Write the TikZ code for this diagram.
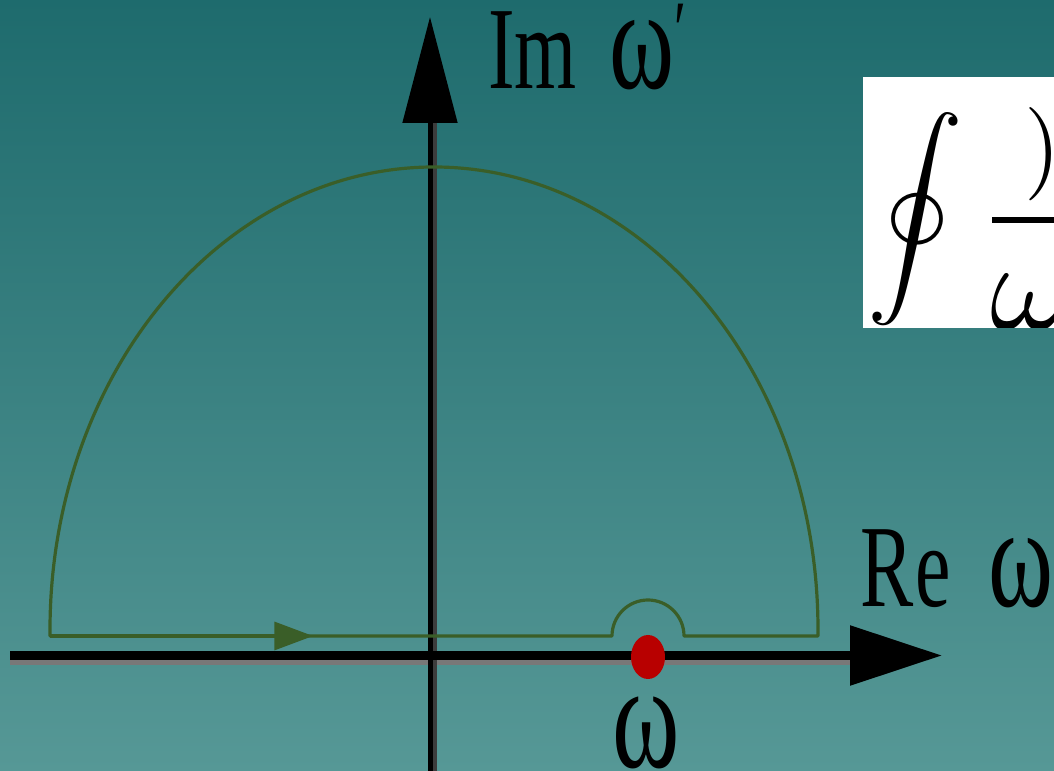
\documentclass[tikz,border=0pt]{standalone}
\usepackage{fontspec}
\usepackage{graphicx}
\usetikzlibrary{arrows.meta, shapes.geometric}
\newfontfamily\lblfont{Liberation Serif}
\newcommand{\narrow}[1]{\scalebox{0.68}[1]{#1}}
\newcommand{\wprime}{{\fontsize{60}{60}\selectfont\raisebox{24pt}{′}}}
\definecolor{bgtop}{RGB}{30,107,109}
\definecolor{bgbot}{RGB}{86,152,150}
\definecolor{pathgreen}{RGB}{58,94,40}
\definecolor{polered}{RGB}{184,0,0}
\definecolor{shadowgray}{RGB}{120,120,120}
\definecolor{shadowdark}{RGB}{60,60,60}
\tikzset{
  axisline/.style={line width=6.75pt, black},
  vaxisline/.style={line width=3.75pt, black},
  contour/.style={line width=2.4pt, pathgreen, line join=round},
  lbl/.style={inner sep=0pt, font=\lblfont},
  polemark/.style={ellipse, fill=polered, inner sep=0pt,
                   minimum width=25.5pt, minimum height=33pt},
}

\begin{document}
\begin{tikzpicture}[x=0.75pt, y=0.75pt]
\useasboundingbox (0,0) rectangle (1054,771);
\clip (0,0) rectangle (1054,771);
\shade[top color=bgtop, bottom color=bgbot] (0,0) rectangle (1054,771);
% axes
\coordinate (xfrom) at (10,115.5);
\coordinate (xto) at (942,115.5);
\coordinate (yfrom) at (430,0);
\coordinate (yto) at (430,754);
\draw[line width=4.5pt, shadowgray] (10,109) -- (850,109);
\draw[line width=3.75pt, shadowdark] (434.5,0) -- (434.5,648);
\draw[axisline, -{Triangle[length=69pt, width=43.5pt]}] (xfrom) -- (xto);
\draw[vaxisline, -{Triangle[length=79.5pt, width=40.5pt]}] (yfrom) -- (yto);
% contour
\draw[contour] (50,135) -- (612,135) arc[start angle=180, end angle=0, radius=27pt]
  -- (818,135) -- (818,141)
  arc[start angle=0, end angle=180, x radius=288pt, y radius=347.25pt] -- cycle;
\draw[contour, -{Triangle[length=29pt, width=21pt]}] (50,135) -- (313,135);
\node[polemark] (pole) at (648,114) {};
% labels
\node[lbl, anchor=base west] (imlbl) at (488,682)
  {\narrow{\fontsize{88}{88}\selectfont Im\hspace{36pt}{\fontsize{109}{109}\selectfont ω}\wprime}};
\node[lbl, anchor=base west] (relbl) at (860,164)
  {\narrow{\fontsize{88}{88}\selectfont R\hspace{2pt}e\hspace{42pt}{\fontsize{109}{109}\selectfont ω}\wprime}};
\node[lbl, anchor=base west] (omlbl) at (612,3)
  {\narrow{\fontsize{113}{113}\selectfont ω}};
% formula box, cut at the edge
\begin{scope}
\clip (863,443) rectangle (1060,694);
\fill[white] (863,443) rectangle (1060,694);
\node[inner sep=0pt] (intsign) at (915,552) {\scalebox{7.2}{$\displaystyle\oint$}};
\node[inner sep=0pt] (numer) at (1043,617) {\scalebox{7}{)}};
\draw[line width=4.5pt] (992,551) -- (1060,551);
\node[inner sep=0pt, anchor=north west] (denom) at (990,497) {\scalebox{9.6}{$\omega$}};
\end{scope}
\end{tikzpicture}
\end{document}
